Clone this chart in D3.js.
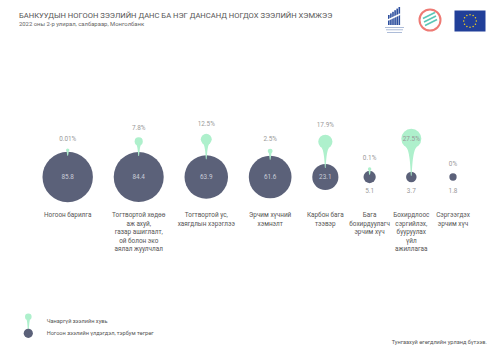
<!DOCTYPE html>
<html>
<head>
<meta charset="utf-8">
<script src="https://cdn.jsdelivr.net/npm/d3@7"></script>
<style>
  body { margin: 0; background: #fff; }
  svg { font-family: Roboto, "Noto Sans", sans-serif; display: block; }
</style>
</head>
<body>
<div id="chart"></div>
<script>
// Өгөгдөл
const categoryLines = [
  ["Ногоон барилга"],
  ["Тогтвортой хөдөө", "аж ахуй,", "газар ашиглалт,", "ой болон эко", "аялал жуулчлал"],
  ["Тогтвортой ус,", "хаягдлын хэрэглээ"],
  ["Эрчим хүчний", "хэмнэлт"],
  ["Карбон бага", "тээвэр"],
  ["Бага", "бохирдуулагч", "эрчим хүч"],
  ["Бохирдлоос", "сэргийлэх,", "бууруулах", "үйл", "ажиллагаа"],
  ["Сэргээгдэх", "эрчим хүч"]
];
const loanValues = [85.8, 84.4, 63.9, 61.6, 23.1, 5.1, 3.7, 1.8];   // тэрбум төгрөг
const nplShares = [0.01, 7.8, 12.5, 2.5, 17.9, 0.1, 27.5, 0];       // %

const titleText = "БАНКУУДЫН НОГООН ЗЭЭЛИЙН ДАНС БА НЭГ ДАНСАНД НОГДОХ ЗЭЭЛИЙН ХЭМЖЭЭ";
const subtitleText = "2022 оны 2-р улирал, салбараар, Монголбанк";
const legendLabels = ["Чанаргүй зээлийн хувь", "Ногоон зээлийн үлдэгдэл, тэрбум төгрөг"];
const footerText = "Тунгаахуй өгөгдлийн урланд бүтээв.";

const width = 500, height = 353;
const darkColor = "#5b6179", greenColor = "#aef0cc";
const cy = 177;

const svg = d3.select("#chart").append("svg")
  .attr("width", width)
  .attr("height", height);

// Гарчиг
svg.append("text").attr("x", 19).attr("y", 17.5)
  .attr("font-size", 7.6).attr("fill", "#555").text(titleText);
svg.append("text").attr("x", 19).attr("y", 26)
  .attr("font-size", 5.9).attr("fill", "#666").text(subtitleText);

// Хэмжээсүүд
const r = d3.scaleSqrt().domain([0, d3.max(loanValues)]).range([0, 25.2]);
const pinR = d3.scaleLinear().domain([0, d3.max(nplShares)]).range([1.7, 10]);
const stem = d3.scaleLinear().domain([0, d3.max(nplShares)]).range([0, 23]);

// тойргийн хэмжээнээс хамаарсан хэвтээ байршил
const minHalf = 10.5, gap = 20.5;
const offsets = [];
let acc = 0;
loanValues.forEach((v, i) => {
  if (i > 0) acc += Math.max(r(loanValues[i - 1]), minHalf) + Math.max(r(v), minHalf) + gap;
  offsets.push(acc);
});
const x = d3.scaleLinear().domain([0, acc]).range([67.7, 453]);

const data = loanValues.map((v, i) => {
  const rr = r(v);
  const share = nplShares[i];
  const top = cy - rr;
  const hr = share > 0 ? pinR(share) : 0;
  const hy = share > 0 ? top - hr - stem(share) : top;
  return { i, v, share, cx: x(offsets[i]), rr, top, hr, hy, lines: categoryLines[i] };
});

// Ногоон зээлийн үлдэгдэл
svg.append("g").selectAll("circle")
  .data(data)
  .join("circle")
  .attr("cx", d => d.cx)
  .attr("cy", cy)
  .attr("r", d => d.rr)
  .attr("fill", darkColor);

// Чанаргүй зээлийн хувь (зүү)
function pinPath(cx, hy, hr, tipY) {
  const p = d3.path();
  p.moveTo(cx - hr * 0.55, hy + hr * 0.8);
  p.bezierCurveTo(cx - 0.9, hy + hr + 1.5, cx - 0.7, tipY - 2, cx - 0.35, tipY);
  p.lineTo(cx + 0.35, tipY);
  p.bezierCurveTo(cx + 0.7, tipY - 2, cx + 0.9, hy + hr + 1.5, cx + hr * 0.55, hy + hr * 0.8);
  p.closePath();
  return p.toString();
}

const pins = svg.append("g").selectAll("g")
  .data(data.filter(d => d.share > 0))
  .join("g");
pins.append("path")
  .attr("d", d => pinPath(d.cx, d.hy, d.hr, d.top + 4))
  .attr("fill", greenColor);
pins.append("circle")
  .attr("cx", d => d.cx)
  .attr("cy", d => d.hy)
  .attr("r", d => d.hr)
  .attr("fill", greenColor);

// Хувийн шошго
svg.append("g").selectAll("text")
  .data(data)
  .join("text")
  .attr("x", d => d.cx)
  .attr("y", d => d.hr * 2 >= 18 ? d.hy + 2.3 : d.hy - d.hr - 7.7)
  .attr("text-anchor", "middle")
  .attr("font-size", 6.4)
  .attr("fill", "#999")
  .text(d => d.share + "%");

// Үлдэгдлийн шошго
svg.append("g").selectAll("text")
  .data(data)
  .join("text")
  .attr("x", d => d.cx)
  .attr("y", d => d.rr >= 10 ? cy + 2.3 : cy + 16.3)
  .attr("text-anchor", "middle")
  .attr("font-size", 6.4)
  .attr("fill", d => d.rr >= 10 ? "#c9ccd8" : "#999")
  .text(d => d.v);

// Салбарын нэр
const cat = svg.append("g").selectAll("text")
  .data(data)
  .join("text")
  .attr("x", d => d.cx)
  .attr("y", cy + 40.3)
  .attr("text-anchor", "middle")
  .attr("font-size", 6.4)
  .attr("fill", "#555");
cat.selectAll("tspan")
  .data(d => d.lines.map(t => ({ t, cx: d.cx })))
  .join("tspan")
  .attr("x", d => d.cx)
  .attr("dy", (d, i) => i === 0 ? 0 : 8.4)
  .text(d => d.t);

// Тайлбар
const legend = svg.append("g").attr("transform", "translate(28.3,0)");
legend.append("path")
  .attr("d", pinPath(0, 316.7, 3.3, 331))
  .attr("fill", greenColor);
legend.append("circle").attr("cx", 0).attr("cy", 316.7).attr("r", 3.3).attr("fill", greenColor);
legend.append("circle").attr("cx", 0).attr("cy", 333.3).attr("r", 4.6).attr("fill", darkColor);
legend.selectAll("text.lg")
  .data(legendLabels)
  .join("text")
  .attr("class", "lg")
  .attr("x", 18.4)
  .attr("y", (d, i) => i === 0 ? 322.7 : 335.3)
  .attr("font-size", 5.6)
  .attr("fill", "#555")
  .text(d => d);

svg.append("text")
  .attr("x", 487).attr("y", 344)
  .attr("text-anchor", "end")
  .attr("font-size", 5.6)
  .attr("fill", "#555")
  .text(footerText);

// Лого
const logo1 = svg.append("g").attr("transform", "translate(388,7)");
d3.range(6).forEach(k => {
  const h = 10 + k * 1.6;
  logo1.append("rect")
    .attr("x", k * 2.1).attr("y", 18 - h)
    .attr("width", 1.6).attr("height", h)
    .attr("fill", "#2d4f9e");
});
logo1.append("line").attr("x1", 0).attr("y1", 13).attr("x2", 12.6).attr("y2", 7)
  .attr("stroke", "#fff").attr("stroke-width", 1.4);
[20, 22.5, 25].forEach((yy, k) => {
  logo1.append("rect").attr("x", -3 + k).attr("y", yy).attr("width", 19 - 2 * k).attr("height", 0.7)
    .attr("fill", "#8aa0c8");
});

const logo2 = svg.append("g").attr("transform", "translate(430,20)");
logo2.append("circle").attr("r", 10.5).attr("fill", "#fff")
  .attr("stroke", "#ee7a74").attr("stroke-width", 2);
[-3.5, 0, 3.5].forEach(o => {
  logo2.append("line")
    .attr("x1", -6 + o * 0.3).attr("y1", 2 + o).attr("x2", 6 + o * 0.3).attr("y2", -4 + o)
    .attr("stroke", "#5cc7b7").attr("stroke-width", 1.6);
});

const logo3 = svg.append("g").attr("transform", "translate(454.5,10.5)");
logo3.append("rect").attr("width", 31).attr("height", 21).attr("fill", "#213f99");
d3.range(12).forEach(k => {
  const a = k / 12 * 2 * Math.PI;
  logo3.append("circle")
    .attr("cx", 15.5 + 6.3 * Math.cos(a)).attr("cy", 10.5 + 6.3 * Math.sin(a))
    .attr("r", 0.75).attr("fill", "#f5d21e");
});
</script>
</body>
</html>
